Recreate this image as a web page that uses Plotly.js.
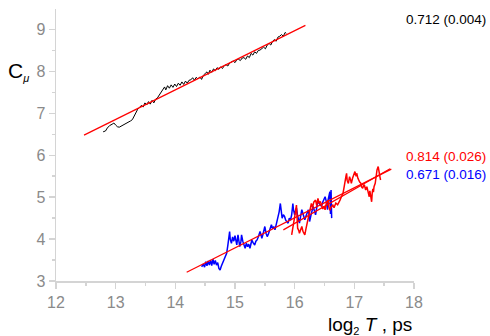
<!DOCTYPE html>
<html><head><meta charset="utf-8">
<script src="https://cdn.plot.ly/plotly-3.0.1.min.js"></script>
<style>html,body{margin:0;padding:0;background:#fff}#chart{width:490px;height:336px}</style>
</head><body><div id="chart"></div>
<script>
const blackX = [12.79,12.83,12.86,12.90,12.94,12.97,13.00,13.03,13.06,13.10,13.14,13.18,13.21,13.25,13.28,13.31,13.34,13.37,13.40,13.43,13.46,13.49,13.52,13.55,13.58,13.61,13.64,13.67,13.70,13.73,13.76,13.79,13.82,13.84,13.87,13.90,13.93,13.96,13.99,14.02,14.05,14.08,14.11,14.14,14.17,14.20,14.23,14.26,14.29,14.32,14.35,14.38,14.41,14.44,14.47,14.50,14.53,14.55,14.58,14.61,14.64,14.67,14.70,14.73,14.76,14.79,14.82,14.85,14.88,14.91,14.94,14.97,15.00,15.03,15.06,15.09,15.12,15.15,15.18,15.21,15.24,15.27,15.30,15.33,15.36,15.39,15.42,15.45,15.48,15.51,15.54,15.57,15.60,15.63,15.66,15.69,15.72,15.75,15.78,15.81,15.84,15.86];
const blackY = [6.56,6.58,6.65,6.71,6.74,6.77,6.72,6.68,6.67,6.70,6.73,6.75,6.79,6.82,6.85,6.93,7.02,7.10,7.14,7.19,7.15,7.25,7.20,7.28,7.22,7.31,7.25,7.34,7.37,7.43,7.50,7.56,7.63,7.56,7.66,7.60,7.68,7.62,7.70,7.64,7.72,7.67,7.75,7.69,7.77,7.72,7.79,7.80,7.85,7.79,7.86,7.82,7.87,7.81,7.91,7.95,7.99,7.93,8.03,7.98,8.06,8.02,8.09,8.05,8.11,8.07,8.14,8.16,8.13,8.20,8.22,8.25,8.21,8.28,8.29,8.26,8.32,8.33,8.29,8.37,8.33,8.43,8.39,8.47,8.43,8.50,8.51,8.55,8.58,8.54,8.63,8.67,8.63,8.72,8.76,8.72,8.82,8.84,8.88,8.84,8.93,8.91];

const blueX = [14.44,14.47,14.49,14.51,14.53,14.55,14.57,14.59,14.61,14.63,14.65,14.67,14.69,14.71,14.73,14.75,14.77,14.80,14.83,14.86,14.88,14.89,14.91,14.92,14.94,14.96,14.98,15.00,15.03,15.05,15.07,15.08,15.10,15.11,15.13,15.15,15.17,15.19,15.21,15.23,15.25,15.27,15.28,15.30,15.33,15.35,15.37,15.39,15.42,15.44,15.45,15.47,15.50,15.52,15.54,15.56,15.58,15.61,15.63,15.65,15.67,15.69,15.72,15.74,15.76,15.77,15.79,15.81,15.83,15.85,15.87,15.89,15.91,15.93,15.95,15.97,15.98,16.00,16.01,16.03,16.05,16.07,16.08,16.10,16.12,16.14,16.17,16.19,16.21,16.23,16.24,16.25,16.27,16.29,16.31,16.33,16.35,16.37,16.39,16.41,16.43,16.45,16.47,16.49,16.51,16.53,16.55,16.56,16.58,16.59,16.60,16.61,16.62];
const blueY = [3.34,3.40,3.33,3.46,3.36,3.48,3.38,3.50,3.37,3.52,3.40,3.49,3.38,3.44,3.30,3.26,3.35,3.46,3.55,3.66,3.85,3.98,4.18,4.00,3.90,4.05,3.95,4.08,3.86,4.10,3.92,3.82,3.95,4.10,3.95,3.85,3.78,3.90,3.82,3.88,3.78,3.90,3.98,3.92,3.86,3.95,3.98,4.05,4.18,4.08,4.02,4.12,4.30,4.14,4.06,4.12,4.20,4.34,4.25,4.30,4.22,4.35,4.50,4.65,4.85,4.70,4.50,4.58,4.54,4.45,4.40,4.38,4.50,4.45,4.58,4.85,4.70,4.58,4.65,4.74,4.55,4.45,4.38,4.55,4.70,4.60,4.46,4.55,4.62,4.70,4.58,4.42,4.55,4.68,4.78,4.68,4.58,4.75,4.93,4.85,4.80,4.78,4.88,4.95,5.01,4.90,4.70,4.93,5.05,5.13,4.60,5.17,4.50];

const redX = [15.95,15.97,15.99,16.01,16.03,16.04,16.05,16.07,16.08,16.10,16.12,16.14,16.16,16.17,16.19,16.21,16.23,16.25,16.27,16.28,16.30,16.32,16.35,16.37,16.39,16.41,16.43,16.45,16.47,16.49,16.51,16.53,16.56,16.57,16.59,16.61,16.64,16.66,16.69,16.72,16.74,16.76,16.78,16.81,16.83,16.84,16.86,16.87,16.88,16.90,16.92,16.94,16.95,16.97,16.99,17.01,17.03,17.04,17.06,17.07,17.09,17.11,17.12,17.14,17.16,17.17,17.19,17.21,17.23,17.25,17.26,17.27,17.28,17.29,17.30,17.31,17.32,17.33,17.35,17.37,17.38,17.40,17.41,17.42,17.43,17.44];
const redY = [4.10,4.25,4.45,4.62,4.81,4.50,4.26,4.20,4.14,4.22,4.30,4.18,4.12,4.10,4.25,4.40,4.54,4.70,4.80,4.85,4.75,4.88,4.93,4.80,4.97,4.85,4.90,4.80,4.72,4.78,4.70,4.85,4.93,4.78,4.69,4.76,4.81,4.75,4.86,4.82,4.90,4.93,5.00,5.09,5.25,5.37,5.50,5.57,5.40,5.33,5.49,5.40,5.33,5.45,5.52,5.61,5.50,5.57,5.45,5.40,5.36,5.33,5.25,5.21,5.30,5.28,5.17,5.25,5.10,5.01,5.15,5.05,4.95,4.89,5.10,5.20,5.12,5.25,5.33,5.57,5.65,5.73,5.60,5.55,5.48,5.41];

const fitBlackX = [12.47, 16.18], fitBlackY = [6.48, 9.10];
const fitBlueX = [14.19, 17.62], fitBlueY = [3.21, 5.67];
const fitRedX = [15.81, 17.60], fitRedY = [4.22, 5.68];

const labels = ["0.712 (0.004)", "0.814 (0.026)", "0.671 (0.016)"];
const xTicks = [12, 13, 14, 15, 16, 17, 18];
const yTicks = [3, 4, 5, 6, 7, 8, 9];

const FONT = "Liberation Sans, Arial, sans-serif";
const traces = [
  {x: blackX, y: blackY, mode: "lines", line: {color: "#000000", width: 1}},
  {x: blueX, y: blueY, mode: "lines", line: {color: "#0000ff", width: 1.5}},
  {x: redX, y: redY, mode: "lines", line: {color: "#ff0000", width: 1.5}},
  {x: fitBlackX, y: fitBlackY, mode: "lines", line: {color: "#ff0000", width: 1.2}},
  {x: fitBlueX, y: fitBlueY, mode: "lines", line: {color: "#ff0000", width: 1.2}},
  {x: fitRedX, y: fitRedY, mode: "lines", line: {color: "#ff0000", width: 1.2}}
];
const axisCommon = {
  showgrid: false, zeroline: false, showline: true, linecolor: "#d4d4d4", linewidth: 1.5,
  ticks: "outside", ticklen: 6, tickcolor: "#d4d4d4", tickwidth: 1.5,
  tickfont: {family: FONT, size: 16, color: "#8a8a8a"},
  minor: {dtick: 0.5, ticks: "outside", ticklen: 3, tickcolor: "#d4d4d4", tickwidth: 1.5}
};
const layout = {
  width: 490, height: 336,
  margin: {l: 56, r: 76, t: 9, b: 55},
  paper_bgcolor: "#fff", plot_bgcolor: "#fff",
  showlegend: false,
  xaxis: Object.assign({}, axisCommon, {range: [12, 18], tickvals: xTicks, ticktext: xTicks.map(String)}),
  yaxis: Object.assign({}, axisCommon, {range: [3, 9.49], tickvals: yTicks, ticktext: yTicks.map(String)}),
  annotations: [
    {text: "C<sub><span style='font-size:11px'><i>μ</i></span></sub>", xref: "paper", yref: "y", x: -0.105, y: 8.0, xanchor: "center", yanchor: "middle", showarrow: false, font: {family: FONT, size: 21, color: "#000"}},
    {text: "log<sub><span style='font-size:11px'>2</span></sub> <i>T</i> , ps", xref: "paper", yref: "paper", x: 0.877, y: -0.162, xanchor: "center", yanchor: "middle", showarrow: false, font: {family: FONT, size: 19, color: "#000"}},
    {text: labels[0], xref: "paper", yref: "paper", x: 1.207, y: 0.96, xanchor: "right", yanchor: "middle", showarrow: false, font: {family: FONT, size: 13.5, color: "#000"}},
    {text: labels[1], xref: "paper", yref: "paper", x: 1.207, y: 0.456, xanchor: "right", yanchor: "middle", showarrow: false, font: {family: FONT, size: 13.5, color: "#ff0000"}},
    {text: labels[2], xref: "paper", yref: "paper", x: 1.207, y: 0.393, xanchor: "right", yanchor: "middle", showarrow: false, font: {family: FONT, size: 13.5, color: "#0000ff"}}
  ]
};
Plotly.newPlot("chart", traces, layout, {staticPlot: true, displayModeBar: false});
</script></body></html>
